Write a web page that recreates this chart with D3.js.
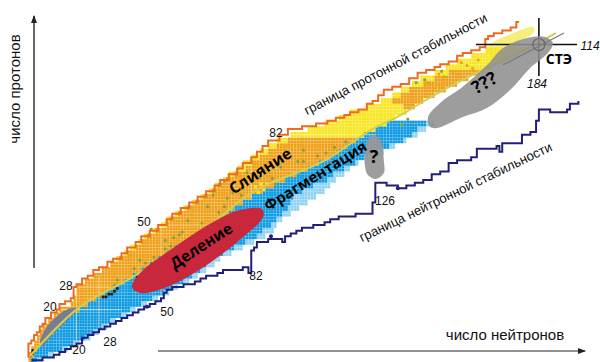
<!DOCTYPE html>
<html>
<head>
<meta charset="utf-8">
<title>Карта нуклидов</title>
<script src="https://d3js.org/d3.v7.min.js"></script>
<style>
html, body { margin: 0; background: #fff; }
svg { display: block; }
svg text { font-family: "Liberation Sans", Arial, sans-serif; fill: #111; }
svg text.big { font-family: "Open Sans", sans-serif; font-weight: 700; fill: #000; }
</style>
</head>
<body>
<script>
// rows of the nuclide chart: every second Z
var zRows = [2,4,6,8,10,12,14,16,18,20,22,24,26,28,30,32,34,36,38,40,42,44,46,48,50,52,54,56,
    58,60,62,64,66,68,70,72,74,76,78,80,82,84,86,88,90,92,94,96,98,100,102,104,106,108,110,112];
var nTop = [3,3,4,5,6,7,8,10,12,14,18,19,20,20,23,26,29,32,34,37,39,42,44,47,50,52,55,58,
    61,64,67,69,72,74,77,79,82,85,88,91,96,102,108,113,117,123,128,132,135,139,142,147,151,155,160,165];
var nOrange = [3,3,4,5,6,7,8,10,12,14,18,19,20,20,23,26,29,32,35,38,41,43,45,48,52,53,56,59,
    62,65,68,70,73,76,80,82,85,88,91,95,122,126,130,133,137,136,132,135,138,143,147,152,167,172,176,181];
var nBeta = [4,5,6,8,10,12,14,16,18,21,24,27,30,33,37,40,43,46,49,52,55,59,62,65,68,71,74,76,
    79,82,86,90,94,98,102,106,110,113,116,119,122,126,130,133,137,140,143,147,151,155,159,163,167,172,176,181];
var nBlue = [6,10,15,19,23,26,29,32,36,39,43,47,51,54,58,61,64,66,68,72,76,80,84,86,89,91,93,95,
    96,97,100,104,109,111,115,119,122,127,131,136,139,141,144];
var nPale = [8,12,17,21,25,28,31,34,38,41,45,49,53,56,60,63,66,69,71,75,79,83,87,90,91,93,96,99,
    102,105,108,110,112,115,117,120,124,129,133,137,141,144,147];

// scattered single nuclides
var greenN = [57,59,54,51,40,42,34,33,28,70,56,89,78,73,46,51,59,64,98,95,105,80,72,115,108,100,111,140,143,137,135,149,
    47,44,53,72,66,75,68,92,86,100,112,84,90];
var greenZ = [47,44,45,41,34,37,30,28,24,54,46,66,60,59,48,44,51,50,72,67,74,68,65,79,75,72,77,100,101,87,85,104,
    38,36,42,56,56,61,60,70,69,76,75,66,64];
var blackN = [3,4,4,29,30,31,32,33,34,41,42,43,44,45];
var blackZ = [3,4,5,24,24,25,25,26,27,31,31,32,33,34];
var hotN = [144,147,150,153,148,155,158,160,156,162,146];
var hotZ = [100,101,102,104,103,103,106,105,107,108,98];
var paleN = [83,85,87,84,86];
var paleZ = [63,64,64,61,62];

// stability boundaries
var protonN = [3,3,3,4,5,6,7,8,9,11,13,14,16,17,18,19,20,22,24,26,28,31,33,36,38,41,43,46,49,52,
    54,57,60,63,66,69,71,74,77,79,82,84,86,88,92,95,100,105,109,112,115,117,120,123,125,127,129,
    132,135,138,141,144,147,149,152,155,157,160,163,165,166,168,171,174,176,177];
var protonZ = [3,5,6,8,9,11,12,14,15,17,19,20,22,23,23,24,28,29,31,32,34,35,37,38,40,42,44,46,48,50,
    52,54,56,58,60,62,64,66,68,70,72,74,76,78,80,82,84,85,86,87,88,89,90,91,93,94,96,
    98,99,100,102,104,105,106,107,108,110,111,112,113,116,117,118,119,120,122];
var neutronN = [4,6,8,10,12,14,16,18,20,22,24,26,28,30,32,34,36,38,40,42,44,46,48,50,51,52,54,56,58,60,
    62,64,66,68,70,72,74,76,79,81,82,83,84,86,88,91,93,94,96,98,100,102,104,106,108,110,113,116,119,122,
    125,126,127,129,130,132,134,137,140,143,146,149,152,155,160,162,169,170,171,175,178,181,183,184,187,188,190,194,195,198];
var neutronZ = [2,2,3,3,4,5,6,7,8,10,11,12,13,14,15,16,17,18,19,20,21,22,23,24,26,27,28,28,29,29,
    30,31,32,32,33,34,34,34,35,33,41,42,44,44,45,45,44,46,47,48,49,49,50,50,51,52,53,53,54,54,
    58,65,65,65,64,64,63,64,65,66,68,69,72,73,74,77,78,76,79,79,82,83,87,91,91,90,90,91,93,94];
var dotN = [45,89,134];
var dotZ = [21,46,63];

// beta stability line
var lineN = [3,20,39,64,80,110,125,135,145,160,175,190];
var lineZ = [3,20,31,47,60,74,84,89,95,103,110,118];

// magic number segments
var magicN1 = [20,28,11,20,50,50,82,96];
var magicZ1 = [5,12,20,28,22,50,59,82];
var magicN2 = [20,28,36,32,50,72,82,126];
var magicZ2 = [28,32,20,28,50,50,80,82];

// blobs
var redN = [39.7,42.6,53.2,68.4,78,85.8,86.2,79,65,52.1,42.6];
var redZ = [28,33,41.1,51,55.3,55.7,52.8,45.7,35,28,25.9];
var bigN = [145.4,144.7,149,157,165.6,171.3,179.8,186.2,189,187.2,180.9,173.8,165.6,157,147.9];
var bigZ = [84.8,88.3,93.3,99,106.7,112.8,116.3,116.7,114.5,111,105.7,97.9,91.5,88.3,84.4];
var smallN = [125.2,128,129,129,126.2,123.4,122.3,122.7];
var smallZ = [81.9,79.8,73,68.4,66.3,67.7,71.3,78.4];
var glowN = [166,174.8,182,182.3,177.3,168.4];
var glowZ = [113,118,120.2,118.4,114.9,106.7];
var lowN = [7.1,9.2,12.4,16.3,20.6,16.3,11.3,7.8];
var lowZ = [8.5,13.5,17,19.9,20.6,15.6,11,6.7];

var width = 600, height = 362;
var x = d3.scaleLinear().domain([0, 200]).range([20, 584]);
var y = d3.scaleLinear().domain([0, 120]).range([366, 27.6]);

var svg = d3.select("body").append("svg")
    .attr("width", width)
    .attr("height", height);

var defs = svg.append("defs");
defs.append("marker").attr("id", "arrow")
    .attr("viewBox", "0 0 8 6").attr("refX", 7).attr("refY", 3)
    .attr("markerWidth", 8).attr("markerHeight", 6).attr("orient", "auto")
    .attr("markerUnits", "userSpaceOnUse")
    .append("path").attr("d", "M0,0L8,3L0,6Z").attr("fill", "#222");

// one rect per nuclide
var cells = [];
function addCell(n, z, c) { cells.push({ n: n, z: z, c: c }); }
zRows.forEach(function(z, i) {
    for (var k = 0; k < 2; k++) {
        var zz = z - k;
        var n;
        // a row shorter than the others stops at its edges
        if (i < nBlue.length) {
            for (n = nBeta[i]; n < nPale[i]; n++) addCell(n, zz, n < nBlue[i] ? "#0c9ae2" : "#90d2f2");
        }
        for (n = nTop[i]; n < nBeta[i]; n++) addCell(n, zz, n < nOrange[i] ? "#f7e61e" : "#ef9f14");
    }
});
greenN.forEach(function(n, i) { addCell(n, greenZ[i], "#8d9b2e"); });
hotN.forEach(function(n, i) { addCell(n, hotZ[i], "#ef9f14"); });
paleN.forEach(function(n, i) { addCell(n, paleZ[i], "#f7e61e"); });
blackN.forEach(function(n, i) { addCell(n, blackZ[i], "#1b1b1b"); });

var cw = x(1) - x(0), ch = y(0) - y(1);

// window.closed is read only, so this one needs another name
var blobLine = d3.line().x(function(d) { return x(d[0]); }).y(function(d) { return y(d[1]); })
    .curve(d3.curveCatmullRomClosed.alpha(0.5));

svg.append("path").datum(d3.zip(glowN, glowZ)).attr("d", blobLine).attr("fill", "#f6ee7c");

svg.append("g").selectAll("rect").data(cells).enter().append("rect")
    .attr("x", function(d) { return x(d.n); })
    .attr("y", function(d) { return y(d.z + 1); })
    .attr("width", cw)
    .attr("height", ch)
    .attr("fill", function(d) { return d.c; })
    .attr("stroke", "#ffffff")
    .attr("stroke-opacity", 0.12)
    .attr("stroke-width", 0.5);

svg.append("g").selectAll("line").data(magicN1).enter().append("line")
    .attr("x1", function(d) { return x(d); })
    .attr("y1", function(d, i) { return y(magicZ1[i]); })
    .attr("x2", function(d, i) { return x(magicN2[i]); })
    .attr("y2", function(d, i) { return y(magicZ2[i]); })
    .attr("stroke", "#fff6c0")
    .attr("stroke-opacity", 0.5)
    .attr("stroke-width", 1.2);

svg.append("path").datum(d3.zip(lowN, lowZ)).attr("d", blobLine)
    .attr("fill", "#6f7a96").attr("opacity", 0.92);

svg.append("path").datum(d3.zip(lineN, lineZ))
    .attr("d", d3.line().x(function(d) { return x(d[0]); }).y(function(d) { return y(d[1]); }).curve(d3.curveMonotoneX))
    .attr("fill", "none").attr("stroke", "#cfcf55").attr("stroke-width", 2);

svg.append("path").datum(d3.zip(protonN, protonZ))
    .attr("d", d3.line().x(function(d) { return x(d[0]); }).y(function(d) { return y(d[1]); }).curve(d3.curveStepBefore))
    .attr("fill", "none").attr("stroke", "#ee6a20").attr("stroke-width", 2);

svg.append("path").datum(d3.zip(neutronN, neutronZ))
    .attr("d", d3.line().x(function(d) { return x(d[0]); }).y(function(d) { return y(d[1]); }).curve(d3.curveStepAfter))
    .attr("fill", "none").attr("stroke", "#231f78").attr("stroke-width", 2);

svg.append("g").selectAll("circle").data(dotN).enter().append("circle")
    .attr("cx", function(d) { return x(d); })
    .attr("cy", function(d, i) { return y(dotZ[i]); })
    .attr("r", 2)
    .attr("fill", "#231f78");

// axes
svg.append("line").attr("x1", 34).attr("y1", 268).attr("x2", 34).attr("y2", 16)
    .attr("stroke", "#333").attr("stroke-width", 1.5).attr("marker-end", "url(#arrow)");
svg.append("line").attr("x1", 158).attr("y1", 351).attr("x2", 585).attr("y2", 351)
    .attr("stroke", "#222").attr("stroke-width", 1).attr("marker-end", "url(#arrow)");

// crosshair at N=184, Z=114
svg.append("line").attr("x1", x(184)).attr("y1", 18).attr("x2", x(184)).attr("y2", 76)
    .attr("stroke", "#111").attr("stroke-width", 1.6);
svg.append("line").attr("x1", 476).attr("y1", y(114)).attr("x2", 577).attr("y2", y(114))
    .attr("stroke", "#111").attr("stroke-width", 1.6);

svg.append("path").datum(d3.zip(bigN, bigZ)).attr("d", blobLine)
    .attr("fill", "#8f8f8f").attr("opacity", 0.88);
svg.append("path").datum(d3.zip(smallN, smallZ)).attr("d", blobLine)
    .attr("fill", "#989898").attr("opacity", 0.95);
svg.append("path").datum(d3.zip(redN, redZ)).attr("d", blobLine)
    .attr("fill", "#c9283c");

svg.append("line").attr("x1", 503).attr("y1", 65).attr("x2", 564).attr("y2", 33)
    .attr("stroke", "#777").attr("stroke-width", 1.2);
svg.append("circle").attr("cx", x(184)).attr("cy", y(114)).attr("r", 6)
    .attr("fill", "none").attr("stroke", "#666").attr("stroke-width", 1.2);

// texts
function label(t, px, py, size, angle, cls, italic) {
    svg.append("text")
        .attr("class", cls || null)
        .attr("text-anchor", "middle")
        .attr("dominant-baseline", "middle")
        .attr("transform", "translate(" + px + "," + py + ") rotate(" + (angle || 0) + ")")
        .style("font-size", size + "px")
        .style("font-style", italic ? "italic" : null)
        .text(t);
}
label("число протонов", 16, 89, 15, -90);
label("число нейтронов", 505, 336, 15, 0);
label("граница протонной стабильности", 396, 65, 13.2, -27.5);
label("граница нейтронной стабильности", 456, 193, 13.2, -25.8);
label("Слияние", 261, 172, 15.5, -33, "big");
label("Фрагментация", 316, 177, 15, -32, "big");
label("Деление", 202, 247, 15.5, -33, "big");
label("???", 485, 84, 18, -30, "big");
label("?", 374, 158, 18, 0, "big");
label("СТЭ", 559, 60, 14, 0, "big");
label("114", 590, 47, 12, 0, null, true);
label("184", 537, 85, 12, 0, null, true);
label("82", 276, 134, 12);
label("50", 144, 223, 12);
label("28", 66, 287, 12);
label("20", 50, 308, 12);
label("20", 79, 351, 12);
label("28", 110, 343, 12);
label("50", 167, 313, 12);
label("82", 256, 277, 12);
label("126", 385, 202, 12);
</script>
</body>
</html>
